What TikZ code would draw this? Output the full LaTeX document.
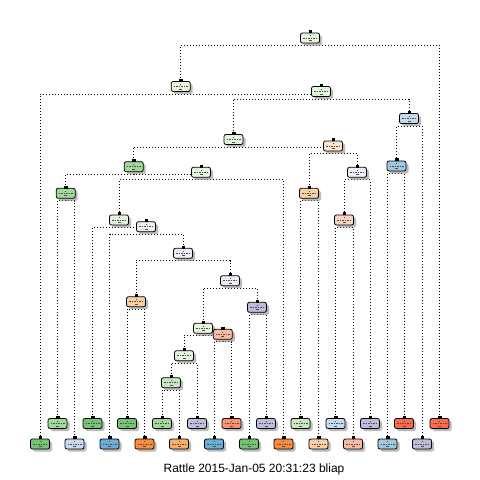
\documentclass[tikz,border=0pt]{standalone}
\usepackage{fontspec}
\setmainfont{Liberation Sans}
\usetikzlibrary{shadows,calc}
\pgfdeclarelayer{bg}
\pgfsetlayers{bg,main}
\definecolor{cPG}{HTML}{E5F5E0}
\definecolor{cG1}{HTML}{C7E9C0}
\definecolor{cG2}{HTML}{A1D99B}
\definecolor{cG3}{HTML}{74C476}
\definecolor{cB1}{HTML}{C6DBEF}
\definecolor{cB2}{HTML}{9ECAE1}
\definecolor{cB3}{HTML}{6BAED6}
\definecolor{cPE}{HTML}{FEE6CE}
\definecolor{cO1}{HTML}{FDD0A2}
\definecolor{cO2}{HTML}{FDAE6B}
\definecolor{cO3}{HTML}{FD8D3C}
\definecolor{cS0}{HTML}{FCD5C3}
\definecolor{cS1}{HTML}{FCBBA1}
\definecolor{cS2}{HTML}{FC9272}
\definecolor{cR}{HTML}{FB6A4A}
\definecolor{cPL}{HTML}{EFEDF5}
\definecolor{cL2}{HTML}{BCBDDC}
\tikzset{
  treebox/.style={draw=black, line width=0.8pt, rounded corners=2pt,
    minimum width=19pt, minimum height=10pt, inner sep=0pt,
    drop shadow={shadow xshift=2.5pt, shadow yshift=-2.5pt, fill=black!45, opacity=0.6}},
  br/.style={line width=0.8pt, dash pattern=on 0.9pt off 2.1pt, black},
  innermark/.style={line width=0.5pt, black!70},
  tabmark/.style={fill=black, draw=black, line width=0.3pt},
}
\newcommand{\tn}[4]{%
  \node[treebox, fill=#4] (#1) at (#2,#3) {};
  \fill[tabmark] ($(#1.north)+(-1.2,0)$) rectangle ($(#1.north)+(1.2,-2)$);
  \draw[innermark, dash pattern=on 1.5pt off 1pt] ($(#1.center)+(-7,0)$) -- ($(#1.center)+(7,0)$);
  \fill[black!70] ($(#1.center)+(-0.5,-2.8)$) rectangle ($(#1.center)+(0.5,-2)$);
  \fill[black!70] ($(#1.center)+(-1.5,2)$) rectangle ($(#1.center)+(1.5,2.8)$);
}
\newcommand{\splitbr}[3]{%
  \begin{pgfonlayer}{bg}
  \draw[br] (#2.north) |- ($(#1.south)+(0,2)$) -| (#3.north);
  \end{pgfonlayer}
}
\begin{document}
\begin{tikzpicture}[x=1pt,y=-1pt]
\useasboundingbox (0,0) rectangle (480,480);
\begin{pgfonlayer}{bg}
\fill[white] (0,0) rectangle (480,480);
\end{pgfonlayer}
% internal nodes
\tn{R}{310}{38}{cPG}
\tn{A}{180.7}{86.5}{cPG}
\tn{B}{321}{91.5}{cPG}
\tn{C}{233.5}{139.5}{cPG}
\tn{D}{409}{118.5}{cB1}
\tn{E}{396.5}{166}{cB2}
\tn{F}{133.7}{166.7}{cG2}
\tn{G}{333}{146}{cPE}
\tn{H}{309}{193.3}{cO1}
\tn{I}{357}{172.3}{cPL}
\tn{J}{344}{220}{cS0}
\tn{K}{65.7}{193.3}{cG2}
\tn{L}{201}{172.3}{cPG}
\tn{M}{119}{220}{cPG}
\tn{N}{146}{226.7}{cPL}
\tn{O}{183}{253.3}{cPL}
\tn{P}{136}{301.7}{cO1}
\tn{Q}{230}{280.7}{cPL}
\tn{T}{257}{307.3}{cL2}
\tn{S}{203}{328.3}{cPG}
\tn{V}{222.8}{334.3}{cS1}
\tn{U}{184}{355.7}{cPG}
\tn{W}{171}{382.7}{cG1}
% leaves
\tn{l0}{40}{444}{cG3}
\tn{l1}{57.5}{423.5}{cG2}
\tn{l2}{74.5}{444}{cB1}
\tn{l3}{92.5}{423.5}{cG3}
\tn{l4}{109.5}{444}{cB3}
\tn{l5}{127}{423.5}{cG3}
\tn{l6}{144.5}{444}{cO3}
\tn{l7}{162}{423.5}{cG2}
\tn{l8}{179}{444}{cO2}
\tn{l9}{197}{423.5}{cL2}
\tn{l10}{214}{444}{cB3}
\tn{l11}{231.5}{423.5}{cS2}
\tn{l12}{249}{444}{cG3}
\tn{l13}{266}{423.5}{cL2}
\tn{l14}{283.5}{444}{cO3}
\tn{l15}{300.5}{423.5}{cG1}
\tn{l16}{318.5}{444}{cO1}
\tn{l17}{335.5}{423.5}{cB1}
\tn{l18}{353}{444}{cS1}
\tn{l19}{370}{423.5}{cL2}
\tn{l20}{387.5}{444}{cB2}
\tn{l21}{404}{423.5}{cR}
\tn{l22}{422}{444}{cL2}
\tn{l23}{439.5}{423.5}{cR}
% splits
\splitbr{R}{A}{l23}
\splitbr{A}{l0}{B}
\splitbr{B}{C}{D}
\splitbr{D}{E}{l22}
\splitbr{E}{l20}{l21}
\splitbr{C}{F}{G}
\splitbr{G}{H}{I}
\splitbr{H}{l15}{l16}
\splitbr{I}{J}{l19}
\splitbr{J}{l17}{l18}
\splitbr{F}{K}{L}
\splitbr{K}{l1}{l2}
\splitbr{L}{M}{l14}
\splitbr{M}{l3}{N}
\splitbr{N}{l4}{O}
\splitbr{O}{P}{Q}
\splitbr{P}{l5}{l6}
\splitbr{Q}{S}{T}
\splitbr{T}{l12}{l13}
\splitbr{S}{U}{V}
\splitbr{V}{l10}{l11}
\splitbr{U}{W}{l9}
\splitbr{W}{l7}{l8}
\node[inner sep=0pt] (foot) at (254,469) {\fontsize{12}{14}\selectfont Rattle 2015-Jan-05 20:31:23 bliap};
\end{tikzpicture}
\end{document}
